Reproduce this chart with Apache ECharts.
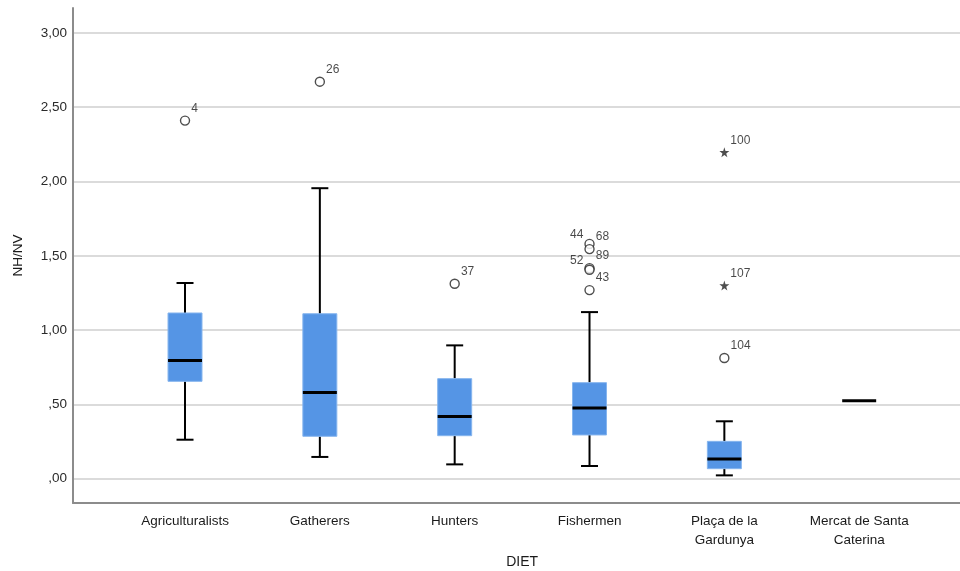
<!DOCTYPE html>
<html>
<head>
<meta charset="utf-8">
<script src="https://cdn.jsdelivr.net/npm/echarts@6/dist/echarts.min.js"></script>
<style>html,body{margin:0;padding:0;background:#fff}#c{width:960px;height:571px}</style>
</head>
<body>
<div id="c"></div>
<script>
// ---- data ----
const categories = ['Agriculturalists', 'Gatherers', 'Hunters', 'Fishermen', 'Plaça de la\nGardunya', 'Mercat de Santa\nCaterina'];
const boxMin    = [0.262, 0.146, 0.096, 0.085, 0.022, 0.525];
const boxQ1     = [0.655, 0.285, 0.289, 0.294, 0.067, 0.525];
const boxMedian = [0.796, 0.580, 0.419, 0.475, 0.132, 0.525];
const boxQ3     = [1.115, 1.110, 0.673, 0.646, 0.251, 0.525];
const boxMax    = [1.317, 1.955, 0.897, 1.121, 0.386, 0.525];

const outlierCat = [0, 1, 2, 3, 3, 3, 3, 3, 4];
const outlierVal = [2.410, 2.672, 1.312, 1.580, 1.545, 1.417, 1.406, 1.269, 0.812];
const outlierId  = ['4', '26', '37', '44', '68', '89', '52', '43', '104'];

const extremeCat = [4, 4];
const extremeVal = [2.197, 1.300];
const extremeId  = ['100', '107'];

const yTicks = [0, 0.5, 1, 1.5, 2, 2.5, 3];
const yName = 'NH/NV';
const xName = 'DIET';

// ---- chart ----
const Y_MIN = -0.164, Y_MAX = 3.168;
const leftLabelIds = ['44', '52'];
const fmtY = v => {
  const s = v.toFixed(2).replace('.', ',');
  return s.startsWith('0') ? s.slice(1) : s;
};
const isTick = v => yTicks.some(t => Math.abs(t - v) < 1e-6);

const boxData = categories.map((c, i) => [i, boxMin[i], boxQ1[i], boxMedian[i], boxQ3[i], boxMax[i]]);

function mkPoints(cats, vals, ids) {
  return cats.map((c, i) => {
    const left = leftLabelIds.includes(ids[i]);
    return {
      value: [c, vals[i]],
      name: ids[i],
      label: left
        ? { position: 'left', distance: 1, offset: [0, -9] }
        : { position: 'right', distance: 1, offset: [0, -12] }
    };
  });
}

const STAR = 'path://M50,0 L61,35 L98,35 L68,57 L79,91 L50,70 L21,91 L32,57 L2,35 L39,35 Z';
const FONT = "'Liberation Sans', Arial, sans-serif";
const labelFont = { fontFamily: FONT, fontSize: 12, color: '#1a1a1a' };

const option = {
  animation: false,
  backgroundColor: '#fff',
  grid: [
    { left: 73, right: 0, top: 8, bottom: 68, outerBoundsMode: 'none', containLabel: false },
    { left: 117.6, width: 809, top: 8, bottom: 68, outerBoundsMode: 'none', containLabel: false }
  ],
  xAxis: [
    {
      gridIndex: 0, type: 'value', min: 0, max: 1,
      axisLine: { show: true, onZero: false, lineStyle: { color: '#8c8c8c', width: 2 } },
      axisTick: { show: false }, axisLabel: { show: false }, splitLine: { show: false }
    },
    {
      gridIndex: 1, type: 'category', data: categories, boundaryGap: true,
      axisLine: { show: false }, axisTick: { show: false }, splitLine: { show: false },
      axisLabel: { margin: 9, fontFamily: FONT, fontSize: 13.5, lineHeight: 19, color: '#1a1a1a', interval: 0 },
      name: xName, nameLocation: 'middle', nameGap: 51,
      nameTextStyle: { fontFamily: FONT, fontSize: 14, color: '#1a1a1a' }
    }
  ],
  yAxis: [
    {
      gridIndex: 0, type: 'value', min: Y_MIN, max: Y_MAX, minInterval: 0.5, maxInterval: 0.5,
      axisLine: { show: true, lineStyle: { color: '#8c8c8c', width: 2 } },
      axisTick: { show: false },
      axisLabel: {
        margin: 6, fontFamily: FONT, fontSize: 13.5, color: '#2a2a2a',
        showMinLabel: false, showMaxLabel: false,
        formatter: v => isTick(v) ? fmtY(v) : ''
      },
      splitLine: { show: true, showMinLine: false, showMaxLine: false, lineStyle: { color: '#cfcfcf', width: 1.5 } },
      name: yName, nameLocation: 'middle', nameGap: 48, nameRotate: 90,
      nameTextStyle: { fontFamily: FONT, fontSize: 13.5, color: '#1a1a1a' }
    },
    {
      gridIndex: 1, type: 'value', min: Y_MIN, max: Y_MAX, show: false, splitLine: { show: false }
    }
  ],
  series: [
    {
      type: 'custom', xAxisIndex: 1, yAxisIndex: 1, data: boxData,
      encode: { x: 0, y: [1, 2, 3, 4, 5] },
      renderItem: function (params, api) {
        const x = api.value(0);
        const pMin = api.coord([x, api.value(1)]);
        const pQ1 = api.coord([x, api.value(2)]);
        const pMed = api.coord([x, api.value(3)]);
        const pQ3 = api.coord([x, api.value(4)]);
        const pMax = api.coord([x, api.value(5)]);
        const band = api.size([1, 0])[0];
        const bw = band * 0.252;
        const cap = bw * 0.5;
        const cx = pMed[0];
        const children = [];
        const lineStyle = { stroke: '#000', lineWidth: 2 };
        if (pQ1[1] - pQ3[1] > 0.5) {
          children.push({ type: 'line', shape: { x1: cx, y1: pQ3[1], x2: cx, y2: pMax[1] }, style: lineStyle });
          children.push({ type: 'line', shape: { x1: cx, y1: pQ1[1], x2: cx, y2: pMin[1] }, style: lineStyle });
          children.push({ type: 'line', shape: { x1: cx - cap / 2, y1: pMax[1], x2: cx + cap / 2, y2: pMax[1] }, style: lineStyle });
          children.push({ type: 'line', shape: { x1: cx - cap / 2, y1: pMin[1], x2: cx + cap / 2, y2: pMin[1] }, style: lineStyle });
          children.push({ type: 'rect', shape: { x: cx - bw / 2, y: pQ3[1], width: bw, height: pQ1[1] - pQ3[1] },
            style: { fill: '#5595E5', stroke: '#86B5EE', lineWidth: 1 } });
        }
        children.push({ type: 'line', shape: { x1: cx - bw / 2, y1: pMed[1], x2: cx + bw / 2, y2: pMed[1] },
          style: { stroke: '#000', lineWidth: 3 } });
        return { type: 'group', children: children };
      },
      z: 2
    },
    {
      type: 'scatter', xAxisIndex: 1, yAxisIndex: 1,
      data: mkPoints(outlierCat, outlierVal, outlierId),
      symbol: 'circle', symbolSize: 9,
      itemStyle: { color: '#fff', borderColor: '#222', borderWidth: 1.4 },
      label: Object.assign({ show: true, formatter: p => p.name }, labelFont),
      z: 3
    },
    {
      type: 'scatter', xAxisIndex: 1, yAxisIndex: 1,
      data: mkPoints(extremeCat, extremeVal, extremeId),
      symbol: STAR, symbolSize: 10,
      itemStyle: { color: '#222' },
      label: Object.assign({ show: true, formatter: p => p.name }, labelFont),
      z: 3
    }
  ]
};

const chart = echarts.init(document.getElementById('c'), null, { renderer: 'canvas' });
chart.setOption(option);
</script>
</body>
</html>
